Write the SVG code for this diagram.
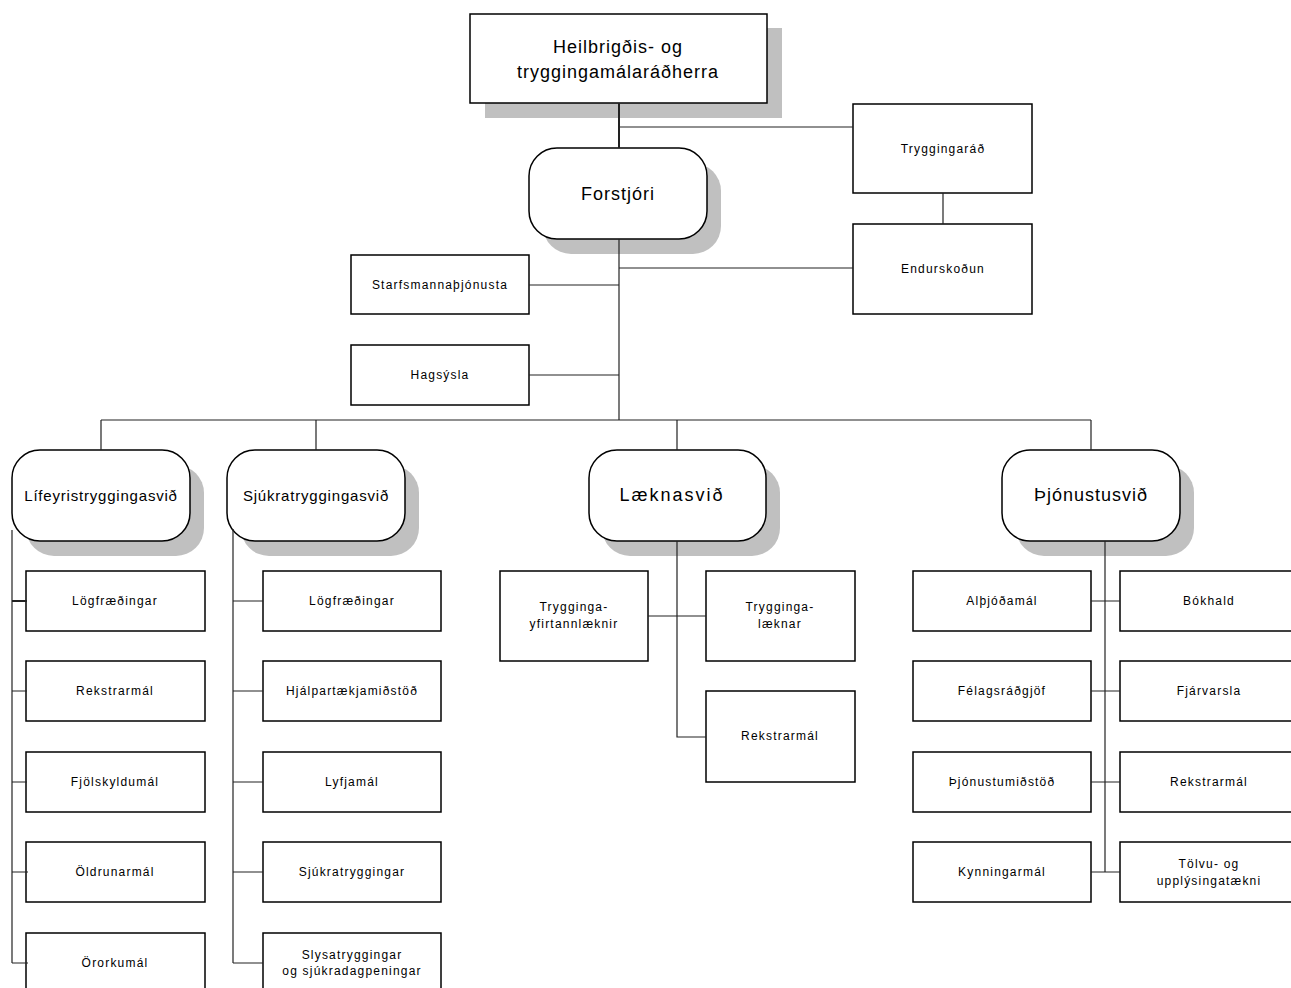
<svg xmlns="http://www.w3.org/2000/svg" width="1291" height="988" viewBox="0 0 1291 988">
<style>
.bx{fill:#fff;stroke:#000;stroke-width:1.5}
.sh{fill:#c0c0c0;stroke:none}
.ln{fill:none;stroke:#222;stroke-width:1.2}
text{font-family:"Liberation Sans",Arial,sans-serif;fill:#000;text-anchor:middle;dominant-baseline:central}
.s{font-size:12px;letter-spacing:1.2px}
.m{font-size:15px;letter-spacing:0.8px}
.l{font-size:18px;letter-spacing:1px}
</style>
<rect width="1291" height="988" fill="#fff"/>
<g id="radherra">
<rect class="sh" x="485" y="28" width="297" height="90"/>
<rect class="bx" x="470" y="14" width="297" height="89"/>
<text class="l" x="618" y="47">Heilbrigðis- og</text>
<text class="l" x="618" y="72">tryggingamálaráðherra</text>
</g>
<g id="forstjori">
<rect class="sh" x="543" y="163" width="178" height="91" rx="28"/>
<rect class="bx" x="529" y="148" width="178" height="91" rx="28"/>
<text class="l" x="618" y="194">Forstjóri</text>
</g>
<g id="tryggingarad">
<rect class="bx" x="853" y="104" width="179" height="89"/>
<text class="s" x="943" y="149">Tryggingaráð</text>
</g>
<g id="endurskodun">
<rect class="bx" x="853" y="224" width="179" height="90"/>
<text class="s" x="943" y="269">Endurskoðun</text>
</g>
<g id="starfsmannathjonusta">
<rect class="bx" x="351" y="255" width="178" height="59"/>
<text class="s" x="440" y="285">Starfsmannaþjónusta</text>
</g>
<g id="hagsysla">
<rect class="bx" x="351" y="345" width="178" height="60"/>
<text class="s" x="440" y="375">Hagsýsla</text>
</g>
<g id="lifeyris">
<rect class="sh" x="26" y="465" width="178" height="91" rx="28"/>
<rect class="bx" x="12" y="450" width="178" height="91" rx="28"/>
<text class="m" x="101" y="495">Lífeyristryggingasvið</text>
</g>
<g id="sjukra">
<rect class="sh" x="241" y="465" width="178" height="91" rx="28"/>
<rect class="bx" x="227" y="450" width="178" height="91" rx="28"/>
<text class="m" x="316" y="495">Sjúkratryggingasvið</text>
</g>
<g id="laekna">
<rect class="sh" x="602" y="465" width="178" height="91" rx="28"/>
<rect class="bx" x="589" y="450" width="177" height="91" rx="28"/>
<text class="l" x="672" y="495" style="letter-spacing:2px">Læknasvið</text>
</g>
<g id="thjonustu">
<rect class="sh" x="1016" y="465" width="178" height="91" rx="28"/>
<rect class="bx" x="1002" y="450" width="178" height="91" rx="28"/>
<text class="l" x="1091" y="495">Þjónustusvið</text>
</g>
<g id="l-logfr"><rect class="bx" x="26" y="571" width="179" height="60"/><text class="s" x="115" y="601">Lögfræðingar</text></g>
<g id="l-rekstr"><rect class="bx" x="26" y="661" width="179" height="60"/><text class="s" x="115" y="691">Rekstrarmál</text></g>
<g id="l-fjolsk"><rect class="bx" x="26" y="752" width="179" height="60"/><text class="s" x="115" y="782">Fjölskyldumál</text></g>
<g id="l-oldrun"><rect class="bx" x="26" y="842" width="179" height="60"/><text class="s" x="115" y="872">Öldrunarmál</text></g>
<g id="l-ororku"><rect class="bx" x="26" y="933" width="179" height="60"/><text class="s" x="115" y="963">Örorkumál</text></g>
<g id="s-logfr"><rect class="bx" x="263" y="571" width="178" height="60"/><text class="s" x="352" y="601">Lögfræðingar</text></g>
<g id="s-hjalp"><rect class="bx" x="263" y="661" width="178" height="60"/><text class="s" x="352" y="691">Hjálpartækjamiðstöð</text></g>
<g id="s-lyfja"><rect class="bx" x="263" y="752" width="178" height="60"/><text class="s" x="352" y="782">Lyfjamál</text></g>
<g id="s-sjukratr"><rect class="bx" x="263" y="842" width="178" height="60"/><text class="s" x="352" y="872">Sjúkratryggingar</text></g>
<g id="s-slysa"><rect class="bx" x="263" y="933" width="178" height="60"/><text class="s" x="352" y="955">Slysatryggingar</text><text class="s" x="352" y="971">og sjúkradagpeningar</text></g>
<g id="k-yfirtann"><rect class="bx" x="500" y="571" width="148" height="90"/><text class="s" x="574" y="607">Trygginga-</text><text class="s" x="574" y="624">yfirtannlæknir</text></g>
<g id="k-laeknar"><rect class="bx" x="706" y="571" width="149" height="90"/><text class="s" x="780" y="607">Trygginga-</text><text class="s" x="780" y="624">læknar</text></g>
<g id="k-rekstr"><rect class="bx" x="706" y="691" width="149" height="91"/><text class="s" x="780" y="736">Rekstrarmál</text></g>
<g id="t-althjoda"><rect class="bx" x="913" y="571" width="178" height="60"/><text class="s" x="1002" y="601">Alþjóðamál</text></g>
<g id="t-felags"><rect class="bx" x="913" y="661" width="178" height="60"/><text class="s" x="1002" y="691">Félagsráðgjöf</text></g>
<g id="t-thjmid"><rect class="bx" x="913" y="752" width="178" height="60"/><text class="s" x="1002" y="782">Þjónustumiðstöð</text></g>
<g id="t-kynning"><rect class="bx" x="913" y="842" width="178" height="60"/><text class="s" x="1002" y="872">Kynningarmál</text></g>
<g id="t-bokhald"><rect class="bx" x="1120" y="571" width="172" height="60"/><text class="s" x="1209" y="601">Bókhald</text></g>
<g id="t-fjarv"><rect class="bx" x="1120" y="661" width="172" height="60"/><text class="s" x="1209" y="691">Fjárvarsla</text></g>
<g id="t-rekstr"><rect class="bx" x="1120" y="752" width="172" height="60"/><text class="s" x="1209" y="782">Rekstrarmál</text></g>
<g id="t-tolvu"><rect class="bx" x="1120" y="842" width="172" height="60"/><text class="s" x="1209" y="864">Tölvu- og</text><text class="s" x="1209" y="881">upplýsingatækni</text></g>
<g id="connectors">
<path class="ln" d="M619 103V148" style="stroke-width:2"/>
<path class="ln" d="M619 127H853"/>
<path class="ln" d="M943 193V224"/>
<path class="ln" d="M619 239V420"/>
<path class="ln" d="M619 268H853"/>
<path class="ln" d="M529 285H619"/>
<path class="ln" d="M529 375H619"/>
<path class="ln" d="M101 420H1091"/>
<path class="ln" d="M101 420V450M316 420V450M677 420V450M1091 420V450"/>
<path class="ln" d="M12 530V963"/>
<path class="ln" d="M12 601H27" style="stroke-width:2"/>
<path class="ln" d="M12 691H27M12 782H27M12 872H28M12 963H28"/>
<path class="ln" d="M233 529V963"/>
<path class="ln" d="M233 601H263M233 691H263M233 782H263M233 872H263M233 963H263"/>
<path class="ln" d="M677 541V737H706"/>
<path class="ln" d="M648 616H706"/>
<path class="ln" d="M1105 541V872"/>
<path class="ln" d="M1091 601H1120M1091 691H1120M1091 782H1120M1091 872H1120"/>
</g>
</svg>
